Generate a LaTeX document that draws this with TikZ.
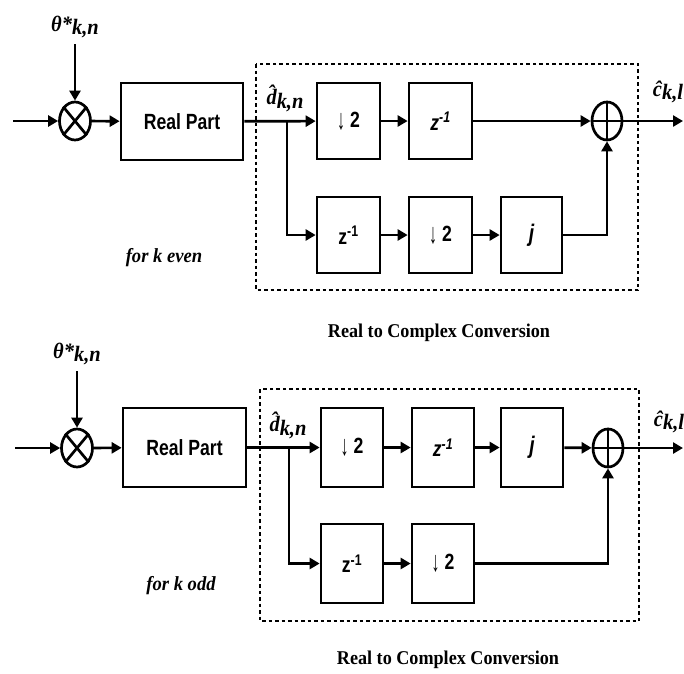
\documentclass[tikz,border=0pt]{standalone}
\usepackage{fontspec}
\setmainfont{Liberation Serif}[FakeStretch=0.93]
\setsansfont{Liberation Sans}[FakeStretch=0.8]
\usetikzlibrary{arrows.meta,shapes.geometric,calc}
\newcommand{\sublab}[2]{#1\raisebox{-0.35ex}{#2}}
\newcommand{\dnarr}{\raisebox{-0.15ex}{\scalebox{0.9}[1.3]{\mdseries ↓}}}
\begin{document}
\begin{tikzpicture}[x=1pt,y=-1pt,
  sig/.style={line width=2.7pt},
  arr/.style={sig,-{Triangle[length=10pt,width=11pt]}},
  blk/.style={draw,line width=2.7pt,minimum height=76pt,inner sep=0pt,
    font=\sffamily\bfseries\fontsize{22}{22}\selectfont},
  junc/.style={ellipse,draw,line width=2.7pt,minimum width=31pt,minimum height=38pt,inner sep=0pt},
  lab/.style={font=\bfseries\itshape\fontsize{22}{22}\selectfont,inner sep=0pt},
  capt/.style={font=\bfseries\fontsize{19.5}{20}\selectfont,inner sep=0pt},
  note/.style={font=\bfseries\itshape\fontsize{20}{20}\selectfont,inner sep=0pt},
  jtxt/.style={font=\sffamily\bfseries\itshape\fontsize{24}{24}\selectfont},
  grp/.style={draw,dash pattern=on 3.5pt off 3pt,line width=1.4pt}]
\fill[white] (0,0) rectangle (684,673);
\useasboundingbox (0,0) rectangle (684,673);

% ---------------- top: k even ----------------
\draw[grp] (256,64) rectangle (638,290);
\coordinate (in1) at (13,121);
\coordinate (br1) at (287,121);
\coordinate (out1) at (683,121);
\node[junc] (mul1) at (75,121) {};
\node[lab] (th1) at (75,27) {\sublab{θ*}{k,n}};
\node[blk,minimum width=122pt,minimum height=77pt] (rp1) at (182,121.5) {Real Part};
\node[lab] (dh1) at (285,98) {\sublab{\^{d}}{k,n}};
\node[blk,minimum width=63pt] (d2a) at (348.5,121) {\dnarr\ 2};
\node[blk,minimum width=63pt] (z1a) at (440.5,121) {\itshape z\textsuperscript{-1}};
\node[junc,minimum width=30pt] (sum1) at (607,121) {};
\node[lab] (ch1) at (668,92) {\sublab{\^{c}}{k,l}};
\node[blk,minimum width=63pt] (z1b) at (348.5,235) {z\textsuperscript{-1}};
\node[blk,minimum width=63pt] (d2b) at (440.5,235) {\dnarr\ 2};
\node[blk,jtxt,minimum width=61pt] (jb) at (531.5,235) {j};
\node[note] (ke) at (164,258) {for k even};
\node[capt] (rc1) at (439,333) {Real to Complex Conversion};

\draw[sig] (mul1.north west) -- (mul1.south east) (mul1.north east) -- (mul1.south west);
\draw[sig] (sum1.north) -- (sum1.south) (sum1.west) -- (sum1.east);
\draw[arr,shorten <=6pt] (th1) -- (mul1);
\draw[arr] (in1) -- (mul1);
\draw[arr] (mul1) -- (rp1);
\draw[arr] (rp1) -- (d2a);
\draw[arr] (br1) |- (z1b);
\draw[arr] (d2a) -- (z1a);
\draw[arr] (z1a) -- (sum1);
\draw[arr] (z1b) -- (d2b);
\draw[arr] (d2b) -- (jb);
\draw[arr] (jb) -| (sum1);
\draw[arr] (sum1) -- (out1);

% ---------------- bottom: k odd ----------------
\draw[grp] (260,389) rectangle (639,621);
\coordinate (in2) at (15,448);
\coordinate (br2) at (289,448);
\coordinate (out2) at (683,448);
\node[junc] (mul2) at (77,448) {};
\node[lab] (th2) at (77,354) {\sublab{θ*}{k,n}};
\node[blk,minimum width=123pt,minimum height=79pt] (rp2) at (184.5,447.5) {Real Part};
\node[lab] (dh2) at (288,425) {\sublab{\^{d}}{k,n}};
\node[blk,minimum width=62pt,minimum height=79pt] (d2c) at (352,447.5) {\dnarr\ 2};
\node[blk,minimum width=62pt,minimum height=79pt] (z1c) at (443,447.5) {\itshape z\textsuperscript{-1}};
\node[blk,jtxt,minimum width=62pt,minimum height=79pt] (jc) at (532,447.5) {j};
\node[junc,minimum width=30pt] (sum2) at (608,448) {};
\node[lab] (ch2) at (669,422) {\sublab{\^{c}}{k,l}};
\node[blk,minimum width=62pt,minimum height=79pt] (z1d) at (352,563.5) {z\textsuperscript{-1}};
\node[blk,minimum width=62pt,minimum height=79pt] (d2d) at (443,563.5) {\dnarr\ 2};
\node[note] (ko) at (181,586) {for k odd};
\node[capt] (rc2) at (448,660) {Real to Complex Conversion};

\draw[sig] (mul2.north west) -- (mul2.south east) (mul2.north east) -- (mul2.south west);
\draw[sig] (sum2.north) -- (sum2.south) (sum2.west) -- (sum2.east);
\draw[arr,shorten <=6pt] (th2) -- (mul2);
\draw[arr] (in2) -- (mul2);
\draw[arr] (mul2) -- (rp2);
\draw[arr] (rp2) -- (d2c);
\draw[arr] (br2) |- (z1d);
\draw[arr] (d2c) -- (z1c);
\draw[arr] (z1c) -- (jc);
\draw[arr] (jc) -- (sum2);
\draw[arr] (z1d) -- (d2d);
\draw[arr] (d2d) -| (sum2);
\draw[arr] (sum2) -- (out2);
\end{tikzpicture}
\end{document}
